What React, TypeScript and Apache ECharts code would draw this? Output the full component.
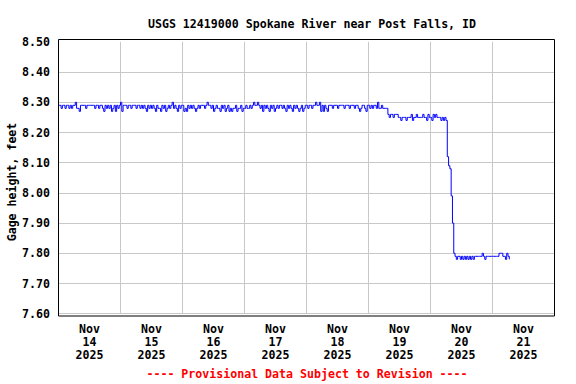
import React, { useEffect, useRef } from "react";
import * as echarts from "echarts";

// Gage height readings (hundredths of a foot), every 30 minutes from Nov 14 2025 00:00
const nov14 = [829,829,828,829,829,828,829,829,828,829,828,829,829,830,828,828,827,829,829,829,829,828,829,829,829,829,829,829,828,829,829,828,829,829,828,827,829,828,829,828,829,827,828,829,827,829,828,829];
const nov15 = [830,827,829,829,829,828,829,829,828,829,829,829,828,829,829,828,829,828,829,828,827,829,828,829,828,829,828,827,829,828,828,827,829,828,829,827,828,829,828,829,830,828,829,828,827,829,828,829];
const nov16 = [829,827,828,827,829,828,829,828,829,828,827,828,829,828,829,829,829,828,829,830,829,829,828,829,827,828,829,828,828,827,829,828,829,827,828,829,827,828,827,828,828,829,827,828,828,829,827,828];
const nov17 = [828,829,828,828,829,828,829,830,829,829,830,829,828,829,827,829,828,829,828,827,829,828,829,827,828,829,828,829,829,828,829,828,827,829,828,829,828,827,829,828,829,828,827,828,829,827,828,829];
const nov18 = [829,828,829,829,828,829,829,830,829,829,830,827,829,827,829,828,827,829,829,829,828,829,829,829,828,829,829,829,829,828,829,829,829,828,829,829,829,828,829,829,828,827,828,829,829,828,827,829];
const nov19 = [829,828,829,828,829,829,828,830,828,828,829,828,828,828,828,826,825,826,826,825,826,826,826,825,825,824,825,825,825,824,825,825,825,826,824,825,825,826,825,825,825,825,826,825,825,824,826,825];
const nov20 = [825,824,826,825,826,825,825,825,824,825,824,825,824,812,809,808,799,790,780,779,778,779,779,778,779,778,779,778,779,778,779,778,779,778,779,779,779,779,779,779,780,779,778,779,779,779,779,779];
const nov21 = [779,779,779,779,779,780,780,780,779,779,778,780,779,778];

const dayLabels = ["Nov\n14\n2025", "Nov\n15\n2025", "Nov\n16\n2025", "Nov\n17\n2025", "Nov\n18\n2025", "Nov\n19\n2025", "Nov\n20\n2025", "Nov\n21\n2025"];
const yTicks = { min: 7.6, max: 8.5, step: 0.1 };

const START = Date.UTC(2025, 10, 14);
const END = Date.UTC(2025, 10, 22);
const DAY = 86400000;
const STEP_MS = 30 * 60 * 1000;

const FONT = "'DejaVu Sans Mono', 'Liberation Mono', monospace";
const FONT_CSS = "bold 11.6px 'DejaVu Sans Mono', 'Liberation Mono', monospace";

export default function App() {
  const ref = useRef<HTMLDivElement>(null);
  useEffect(() => {
    if (!ref.current) return;
    const chart = echarts.init(ref.current, null, { renderer: "svg" });
    const all = [...nov14, ...nov15, ...nov16, ...nov17, ...nov18, ...nov19, ...nov20, ...nov21];
    const data = all.map((v, i) => [START + i * STEP_MS, v / 100]);
    chart.setOption({
      animation: false,
      backgroundColor: "#ffffff",
      title: {
        text: "USGS 12419000 Spokane River near Post Falls, ID",
        left: 307,
        top: 13,
        textAlign: "center",
        textStyle: { fontFamily: FONT, fontSize: 11.6, fontWeight: "bold", color: "#000" },
      },
      grid: {
        left: 58.5,
        right: 21.5,
        top: 41.9,
        bottom: 70.3,
        containLabel: false,
        outerBoundsMode: "none",
      },
      xAxis: [
        {
          type: "value",
          min: START,
          max: END,
          interval: DAY,
          axisLine: { show: false },
          axisTick: { show: false },
          axisLabel: { show: false },
          splitLine: { show: true, lineStyle: { color: "#c8c8c8", width: 1 } },
        },
        {
          type: "category",
          data: dayLabels,
          boundaryGap: true,
          position: "bottom",
          axisLine: { show: false },
          axisTick: { show: false },
          splitLine: { show: false },
          axisLabel: {
            margin: 9,
            fontFamily: FONT,
            fontSize: 11.6,
            fontWeight: "bold",
            color: "#000",
            lineHeight: 13,
            interval: 0,
          },
        },
      ],
      yAxis: {
        type: "value",
        min: yTicks.min,
        max: yTicks.max,
        interval: yTicks.step,
        axisLine: { show: false },
        axisTick: { show: false },
        axisLabel: {
          margin: 8.5,
          fontFamily: FONT,
          fontSize: 11.6,
          fontWeight: "bold",
          color: "#000",
          formatter: (v: number) => v.toFixed(2),
        },
        splitLine: { show: true, showMaxLine: false, lineStyle: { color: "#c8c8c8", width: 1 } },
      },
      graphic: [
        {
          type: "rect",
          shape: { x: 58.5, y: 39.5, width: 496, height: 276.5 },
          style: { fill: "none", stroke: "#000", lineWidth: 1 },
          z: 100,
        },
        {
          type: "text",
          x: 11.5,
          y: 182,
          rotation: Math.PI / 2,
          style: {
            text: "Gage height, feet",
            fill: "#000",
            font: FONT_CSS,
            align: "center",
            verticalAlign: "middle",
          },
        },
        {
          type: "text",
          x: 307,
          y: 374.3,
          style: {
            text: "---- Provisional Data Subject to Revision ----",
            fill: "#ff0000",
            font: FONT_CSS,
            align: "center",
            verticalAlign: "middle",
          },
        },
      ],
      series: [
        {
          type: "line",
          xAxisIndex: 0,
          data,
          step: "end",
          showSymbol: false,
          lineStyle: { color: "#0000ff", width: 1 },
          z: 5,
        },
      ],
    });
    return () => chart.dispose();
  }, []);
  return (
    <div
      ref={ref}
      style={{ position: "fixed", left: 0, top: 0, width: 576, height: 384, background: "#fff" }}
    />
  );
}
